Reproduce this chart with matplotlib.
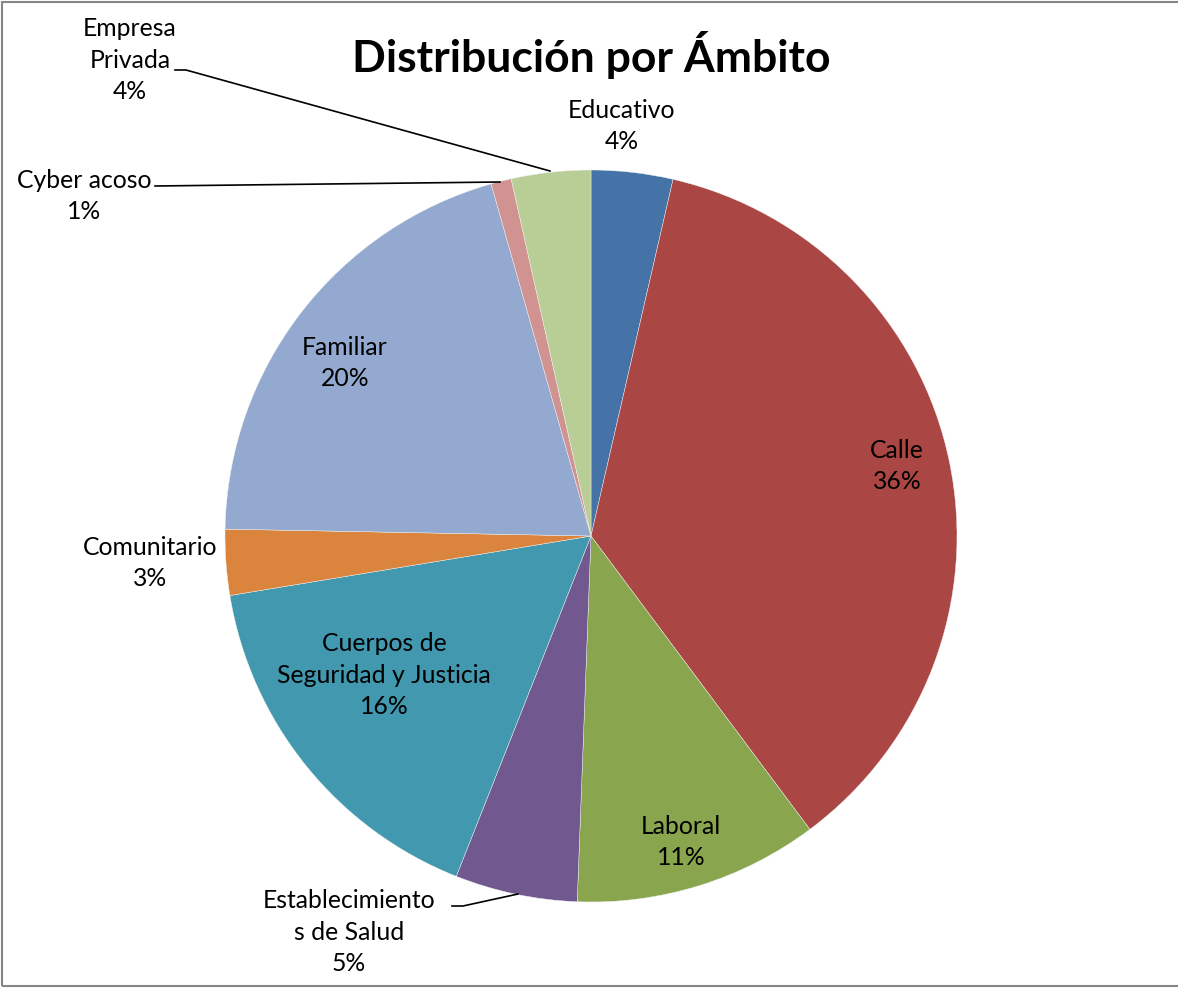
import matplotlib
matplotlib.use("Agg")
import matplotlib.pyplot as plt
from matplotlib.patches import Rectangle

plt.rcParams['font.family'] = ['Lato', 'DejaVu Sans']

# datos (porcentaje por ámbito)
categorias = ['Educativo', 'Calle', 'Laboral', 'Establecimiento\ns de Salud',
              'Cuerpos de\nSeguridad y Justicia', 'Comunitario', 'Familiar',
              'Cyber acoso', 'Empresa\nPrivada']
valores = [3.6, 36.2, 10.8, 5.4, 16.4, 2.9, 20.3, 0.9, 3.5]
colores = ['#4572A7', '#AA4643', '#89A54E', '#71588F', '#4198AF',
           '#DB843D', '#93A9CF', '#D19392', '#B9CD96']

# posicion de las etiquetas en pixeles de la imagen (x, y centro)
pos_etiquetas = [(622, 126), (897, 466), (681, 842), (349, 932), (384, 675),
                 (150, 563), (345, 363), (84, 196), (130, 60)]
# lineas guia (pixeles)
guias = {
    7: [(155, 186), (500, 182)],
    8: [(175, 70), (186, 70), (550, 171)],
    3: [(452, 906), (463, 906), (518, 894)],
}

W, H = 1178, 988
CX, CY, R = 591, 536, 366


def px2d(p):
    return ((p[0] - CX) / R, (CY - p[1]) / R)


fig = plt.figure(figsize=(W / 100, H / 100), dpi=100)
ax = fig.add_axes([(CX - R) / W, (H - CY - R) / H, 2 * R / W, 2 * R / H])

ax.pie(valores, colors=colores, startangle=90, counterclock=False, radius=1,
       wedgeprops=dict(linewidth=0.3, edgecolor='#f4f4f4'))
ax.set_xlim(-1, 1)
ax.set_ylim(-1, 1)
ax.axis('off')

total = sum(valores)
for i, (cat, v) in enumerate(zip(categorias, valores)):
    x, y = px2d(pos_etiquetas[i])
    txt = cat + '\n' + format(v / total * 100, '.0f') + '%'
    ax.text(x, y, txt, ha='center', va='center', fontsize=17.8,
            linespacing=1.45, color='black', clip_on=False)

for i, pts in guias.items():
    d = [px2d(p) for p in pts]
    ax.plot([p[0] for p in d], [p[1] for p in d], color='black', lw=1.2,
            clip_on=False)

fig.text(591 / W, 1 - 55 / H, 'Distribución por Ámbito', ha='center',
         va='center', fontsize=32, fontweight='bold')

# borde del area del grafico
fig.patches.append(Rectangle((2 / W, 2 / H), 1.2, 1 - 4 / H,
                             transform=fig.transFigure, fill=False,
                             edgecolor='#868686', lw=1.5))

fig.savefig('out.png', dpi=100)
